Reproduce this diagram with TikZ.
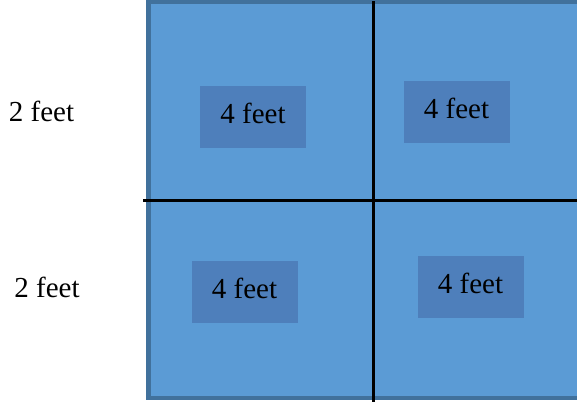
\documentclass[tikz,border=0pt]{standalone}
\usepackage{fontspec}
\setmainfont{Liberation Serif}
\newfontfamily\tnr{Liberation Serif}
\definecolor{panel}{HTML}{5B9BD5}
\definecolor{panelborder}{HTML}{41719C}
\definecolor{tag}{HTML}{4E7FBB}
\tikzset{
  tagbox/.style={fill=tag, draw=none, minimum width=106pt, minimum height=62pt, inner sep=0pt},
  lbl/.style={anchor=base, inner sep=0pt, font=\tnr\fontsize{29}{30}\selectfont},
  divider/.style={draw=black, line width=2.2pt}
}
\begin{document}
\begin{tikzpicture}[x=1pt,y=-1pt]
\useasboundingbox (0,0) rectangle (577,402);
\begin{scope}
\clip (0,0) rectangle (577,402);
\draw[fill=panel, draw=panelborder, line width=4.5pt] (148.5,2) rectangle (590,398);
\end{scope}
\node[tagbox] (b1) at (253,117) {};
\node[tagbox] (b2) at (457,112) {};
\node[tagbox] (b3) at (245,291.5) {};
\node[tagbox] (b4) at (471,286.5) {};
\node[lbl] (t1) at (253,123) {4 feet};
\node[lbl] (t2) at (456.5,118) {4 feet};
\node[lbl] (t3) at (244.5,298) {4 feet};
\node[lbl] (t4) at (470.5,293) {4 feet};
\coordinate (vtop) at (373.5,1);
\coordinate (vbot) at (373.5,402);
\coordinate (hl) at (143,200.5);
\coordinate (hr) at (577,200.5);
\draw[divider] (vtop) -- (vbot);
\draw[divider] (hl) -- (hr);
\node[lbl] (s1) at (41.5,121) {2 feet};
\node[lbl] (s2) at (47,297) {2 feet};
\end{tikzpicture}
\end{document}
